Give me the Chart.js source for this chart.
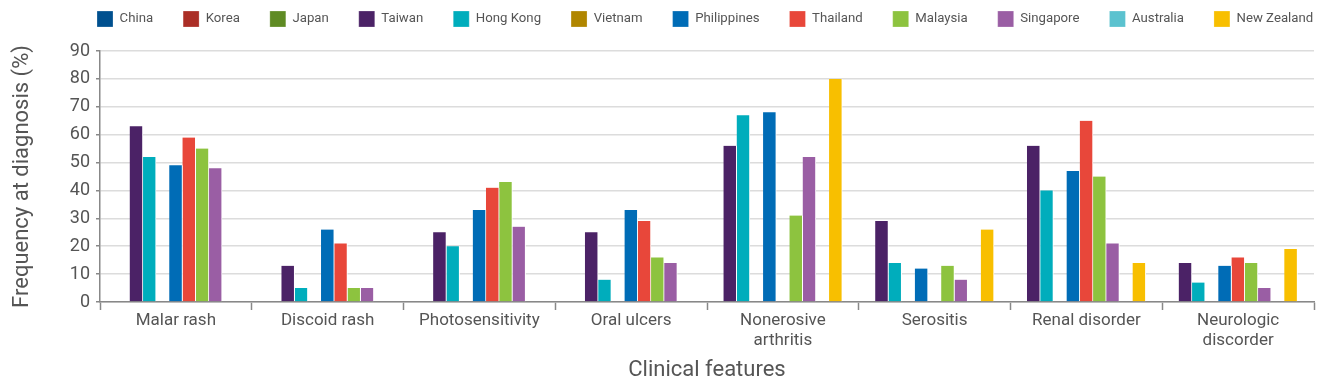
<!DOCTYPE html>
<html>
<head>
<meta charset="utf-8">
<script src="https://cdn.jsdelivr.net/npm/chart.js@4.4.1/dist/chart.umd.min.js"></script>
<style>
  body { margin: 0; background: #fff; }
  #wrap { width: 1326px; height: 391px; }
</style>
</head>
<body>
<div id="wrap"><canvas id="lupusChart"></canvas></div>
<script>
const categories = ['Malar rash', 'Discoid rash', 'Photosensitivity', 'Oral ulcers',
  ['Nonerosive', 'arthritis'], 'Serositis', 'Renal disorder', ['Neurologic', 'discorder']];

const countries = ['China', 'Korea', 'Japan', 'Taiwan', 'Hong Kong', 'Vietnam',
  'Philippines', 'Thailand', 'Malaysia', 'Singapore', 'Australia', 'New Zealand'];
const colors = ['#00508f', '#ab2e26', '#5f8b24', '#4b2266', '#00adbc', '#b08600',
  '#006cb6', '#e8473a', '#8dc33f', '#9a5ea4', '#5bc2cf', '#f8bf00'];

// % at diagnosis; null = not shown for that country
const china = [null, null, null, null, null, null, null, null];
const korea = [null, null, null, null, null, null, null, null];
const japan = [null, null, null, null, null, null, null, null];
const taiwan = [63, 13, 25, 25, 56, 29, 56, 14];
const hongKong = [52, 5, 20, 8, 67, 14, 40, 7];
const vietnam = [0, 0, 0, 0, 0, 0, 0, 0];
const philippines = [49, 26, 33, 33, 68, 12, 47, 13];
const thailand = [59, 21, 41, 29, 0, 0, 65, 16];
const malaysia = [55, 5, 43, 16, 31, 13, 45, 14];
const singapore = [48, 5, 27, 14, 52, 8, 21, 5];
const australia = [null, null, null, null, 0, 0, 0, 0];
const newZealand = [null, null, null, null, 80, 26, 14, 19];

const series = [china, korea, japan, taiwan, hongKong, vietnam,
  philippines, thailand, malaysia, singapore, australia, newZealand];

const textColor = '#555';
const fontFamily = 'Roboto, "Open Sans", sans-serif';

// keep the wide legend spacing on one row without pushing the plot down
const legendPlacement = {
  id: 'legendPlacement',
  beforeInit(chart) {
    const fit = chart.legend.fit;
    chart.legend.fit = function () {
      this.maxWidth = 1400;
      fit.call(this);
      this.height = 51;
    };
  },
  afterLayout(chart) {
    chart.legend.left = 67;
    chart.legend.right = 1400;
    chart.legend.top = -19;
  }
};

const ctx = document.getElementById('lupusChart').getContext('2d');
const chart = new Chart(ctx, {
  type: 'bar',
  data: {
    labels: categories,
    datasets: countries.map((name, i) => ({
      label: name,
      data: series[i],
      backgroundColor: colors[i],
      borderColor: '#fff',
      borderWidth: { top: 0, right: 1, bottom: 0, left: 0 },
      borderSkipped: false
    }))
  },
  options: {
    responsive: true,
    maintainAspectRatio: false,
    animation: false,
    skipNull: true,
    barThickness: 13.2,
    layout: { padding: { left: 0, right: 12, top: 0, bottom: 0 } },
    plugins: {
      legend: {
        position: 'top',
        align: 'start',
        labels: {
          boxWidth: 16,
          boxHeight: 16,
          padding: 30,
          color: textColor,
          font: { family: fontFamily, size: 13.2 }
        }
      },
      tooltip: { enabled: false }
    },
    scales: {
      x: {
        offset: true,
        grid: {
          offset: true,
          drawOnChartArea: false,
          drawTicks: true,
          tickLength: 8,
          tickColor: '#888',
          tickWidth: 1.5
        },
        border: { color: '#888', width: 1.5 },
        ticks: {
          color: textColor,
          padding: 1,
          maxRotation: 0,
          autoSkip: false,
          font: { family: fontFamily, size: 17, lineHeight: 1.15 }
        },
        title: {
          display: true,
          text: 'Clinical features',
          color: textColor,
          padding: { top: 8, bottom: 7 },
          font: { family: fontFamily, size: 22 }
        },
        afterFit(scale) { scale.height = 89; }
      },
      y: {
        min: 0,
        max: 90,
        grid: {
          color: '#dcdcdc',
          lineWidth: 1.5,
          tickColor: '#888',
          tickLength: 4,
          tickWidth: 1.5
        },
        border: { color: '#888', width: 1.5 },
        ticks: {
          stepSize: 10,
          color: textColor,
          padding: 6,
          font: { family: fontFamily, size: 18 }
        },
        title: {
          display: true,
          text: 'Frequency at diagnosis (%)',
          color: textColor,
          padding: { top: 9, bottom: 0 },
          font: { family: fontFamily, size: 22 }
        },
        afterFit(scale) { scale.width = 100; }
      }
    }
  },
  plugins: [legendPlacement]
});
</script>
</body>
</html>
